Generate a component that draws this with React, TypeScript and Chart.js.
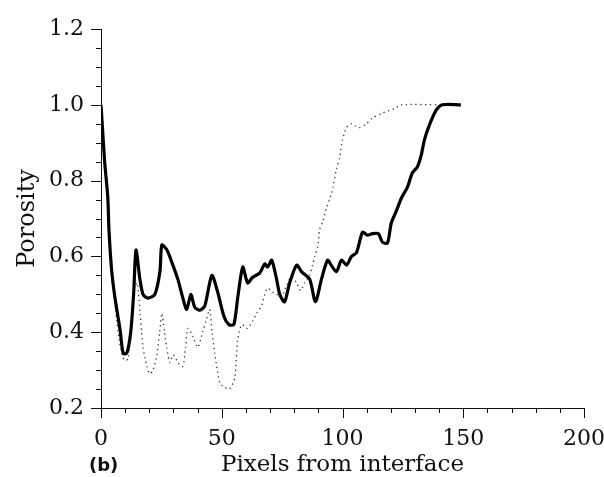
import React, { useEffect, useRef } from "react";
import { Chart, registerables } from "chart.js";

Chart.register(...registerables);

// ---- data ----
const solidX = [0, 0.5, 1.5, 2.8, 3.3, 4.4, 5.8, 7.9, 9.2, 10.7, 12.3, 13.5, 14.5, 16.1, 17.4, 19.4, 22.3, 24.4, 25.2, 27.3, 29.3, 31.8, 33.9, 35.5, 37.2, 38.8, 40.9, 43, 45.9, 48.3, 51, 53, 55, 56.6, 58.7, 60.7, 62.8, 65.7, 67.8, 69, 70.7, 72.7, 74, 76, 78.1, 81, 83, 86.4, 88.8, 91.3, 93.8, 95.5, 97.5, 99.6, 101.7, 103.7, 105.8, 108.3, 110.3, 112.4, 114.9, 116.5, 118.6, 120.2, 122.3, 124.4, 126.9, 128.9, 131, 132.6, 133.9, 136, 138.8, 141.3, 149];
const solidY = [1.0, 0.95, 0.85, 0.757, 0.67, 0.564, 0.49, 0.406, 0.344, 0.345, 0.40, 0.50, 0.617, 0.54, 0.50, 0.49, 0.50, 0.56, 0.63, 0.617, 0.585, 0.54, 0.49, 0.46, 0.50, 0.466, 0.458, 0.47, 0.55, 0.506, 0.44, 0.42, 0.42, 0.49, 0.572, 0.53, 0.545, 0.556, 0.58, 0.572, 0.59, 0.54, 0.50, 0.48, 0.53, 0.577, 0.56, 0.54, 0.48, 0.54, 0.59, 0.575, 0.56, 0.59, 0.577, 0.60, 0.61, 0.664, 0.656, 0.66, 0.66, 0.638, 0.635, 0.688, 0.72, 0.754, 0.783, 0.82, 0.836, 0.867, 0.907, 0.947, 0.986, 1.0, 1.0];

const dottedX = [0, 0.5, 1.5, 2.8, 3.5, 4.5, 6, 7.5, 9, 10, 11.2, 12.5, 14, 15, 16.2, 17.4, 19, 20.2, 21.5, 23, 24.3, 25.2, 26.3, 27.2, 28.5, 29.8, 31, 31.8, 33.9, 35, 36, 38, 40, 42.1, 43.5, 45, 46, 47.1, 49.2, 51, 53.3, 55.4, 56.6, 58.3, 60.7, 62.8, 64.5, 66.5, 67.8, 69, 71, 72.7, 74.8, 76.9, 78.9, 81, 82.6, 84.3, 86.4, 87.6, 88.5, 89.7, 90.5, 91.7, 93.5, 95.5, 97.5, 98.8, 100, 101.7, 103.7, 105, 107, 109.9, 112.4, 116.5, 121.5, 124.4, 140];
const dottedY = [1.0, 0.95, 0.85, 0.75, 0.65, 0.55, 0.46, 0.38, 0.335, 0.325, 0.33, 0.42, 0.52, 0.53, 0.45, 0.36, 0.31, 0.29, 0.30, 0.335, 0.40, 0.45, 0.40, 0.36, 0.32, 0.34, 0.33, 0.32, 0.31, 0.36, 0.41, 0.39, 0.36, 0.40, 0.43, 0.46, 0.40, 0.345, 0.266, 0.255, 0.25, 0.28, 0.38, 0.42, 0.41, 0.43, 0.45, 0.47, 0.50, 0.516, 0.506, 0.50, 0.493, 0.525, 0.546, 0.53, 0.51, 0.53, 0.55, 0.577, 0.60, 0.625, 0.67, 0.69, 0.73, 0.767, 0.83, 0.86, 0.907, 0.94, 0.95, 0.945, 0.94, 0.95, 0.965, 0.978, 0.99, 1.0, 1.0];

const xTickValues = [0, 50, 100, 150, 200];
const yTickValues = [0.2, 0.4, 0.6, 0.8, 1.0, 1.2];
const xTitle = "Pixels from interface";
const yTitle = "Porosity";
const panelLabel = "(b)";

const SERIF = '"DejaVu Serif", serif';

const minorTicks = {
  id: "minorTicks",
  afterDraw(chart: any) {
    const { ctx, chartArea, scales } = chart;
    const xs = scales.x;
    const ys = scales.y;
    ctx.save();
    ctx.strokeStyle = "#111";
    ctx.lineWidth = 1;
    ctx.beginPath();
    for (let v = 0; v <= 200.001; v += 10) {
      const px = Math.round(xs.getPixelForValue(v)) + 0.5;
      const major = Math.abs(v % 50) < 1e-6;
      const len = major ? 10 : 5;
      ctx.moveTo(px, chartArea.bottom);
      ctx.lineTo(px, chartArea.bottom + len);
    }
    for (let i = 0; i <= 20; i++) {
      const v = 0.2 + i * 0.05;
      const py = Math.round(ys.getPixelForValue(v)) + 0.5;
      const major = i % 4 === 0;
      const len = major ? 10 : 5;
      ctx.moveTo(chartArea.left, py);
      ctx.lineTo(chartArea.left - len, py);
    }
    ctx.stroke();
    // panel label
    ctx.fillStyle = "#111";
    ctx.font = 'bold 18px "DejaVu Sans", sans-serif';
    ctx.textAlign = "left";
    ctx.textBaseline = "middle";
    ctx.fillText(panelLabel, 89, 466);
    ctx.restore();
  },
};

export default function App() {
  const ref = useRef<HTMLCanvasElement | null>(null);
  useEffect(() => {
    if (!ref.current) return;
    const chart = new Chart(ref.current, {
      type: "line",
      data: {
        datasets: [
          {
            label: "solid",
            data: solidX.map((x, i) => ({ x, y: solidY[i] })),
            borderColor: "#000",
            borderWidth: 3.2,
            pointRadius: 0,
            tension: 0.25,
            fill: false,
          },
          {
            label: "dotted",
            data: dottedX.map((x, i) => ({ x, y: dottedY[i] })),
            borderColor: "#333",
            borderWidth: 1.3,
            borderDash: [1.3, 3.5],
            pointRadius: 0,
            tension: 0.25,
            fill: false,
          },
        ],
      },
      options: {
        responsive: false,
        animation: false,
        events: [],
        layout: { padding: { top: 29, right: 20, bottom: 0, left: 0 } },
        plugins: { legend: { display: false }, tooltip: { enabled: false } },
        scales: {
          x: {
            type: "linear",
            min: 0,
            max: 200,
            afterFit: (s: any) => {
              s.height = 69;
              s.paddingLeft = 0;
              s.paddingRight = 0;
            },
            afterBuildTicks: (s: any) => {
              s.ticks = xTickValues.map((v) => ({ value: v }));
            },
            grid: { display: false },
            border: { display: true, color: "#111", width: 1 },
            ticks: {
              color: "#111",
              font: { family: SERIF, size: 22 },
              padding: 10,
              autoSkip: false,
              maxRotation: 0,
              callback: (v: any) => String(v),
            },
            title: {
              display: true,
              text: xTitle,
              color: "#111",
              font: { family: SERIF, size: 23, lineHeight: 1.0 },
              padding: { top: 0, bottom: 0 },
            },
          },
          y: {
            type: "linear",
            min: 0.2,
            max: 1.2,
            afterFit: (s: any) => {
              s.width = 101;
              s.paddingTop = 0;
              s.paddingBottom = 0;
            },
            afterBuildTicks: (s: any) => {
              s.ticks = yTickValues.map((v) => ({ value: v }));
            },
            grid: { display: false },
            border: { display: true, color: "#111", width: 1 },
            ticks: {
              color: "#111",
              font: { family: SERIF, size: 22 },
              padding: 9,
              autoSkip: false,
              callback: (v: any) => Number(v).toFixed(1),
            },
            title: {
              display: true,
              text: yTitle,
              color: "#111",
              font: { family: SERIF, size: 24, lineHeight: 1.2 },
              padding: { top: 13, bottom: 0 },
            },
          },
        },
      },
      plugins: [minorTicks],
    });
    return () => chart.destroy();
  }, []);
  return (
    <div style={{ position: "absolute", left: 0, top: 0, width: 604, height: 477, background: "#fff" }}>
      <canvas ref={ref} width={604} height={477} style={{ display: "block" }} />
    </div>
  );
}
